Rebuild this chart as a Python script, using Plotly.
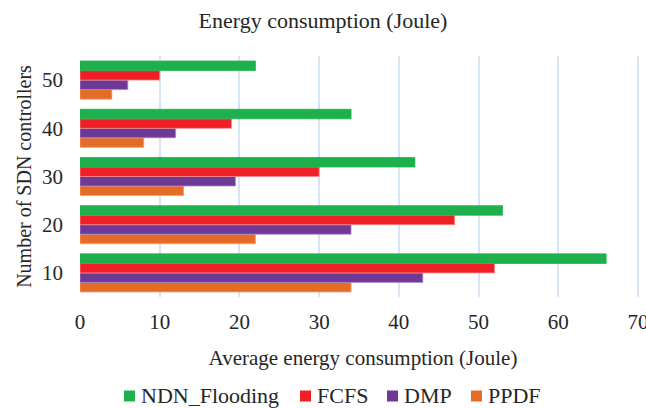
import plotly.graph_objects as go

controllers = ["10", "20", "30", "40", "50"]
ndn_flooding = [66, 53, 42, 34, 22]
fcfs = [52, 47, 30, 19, 10]
dmp = [43, 34, 19.5, 12, 6]
ppdf = [34, 22, 13, 8, 4]

series = [
    ("PPDF", ppdf, "#E66C25", "#F0A070"),
    ("DMP", dmp, "#6E3996", "#A98BC4"),
    ("FCFS", fcfs, "#EE1F25", "#F58A8D"),
    ("NDN_Flooding", ndn_flooding, "#1FB04E", "#1FB04E"),
]

FAM = "Liberation Serif"
TXT = "#262626"
W, H = 646, 408
ML, MR, MT, MB = 80, 0, 56, 111
PW, PH = W - ML - MR, H - MT - MB


def f(size):
    return dict(family=FAM, size=size, color=TXT)


fig = go.Figure()
for name, vals, color, edge in series:
    fig.add_trace(go.Bar(
        y=controllers, x=vals, orientation="h", name=name, showlegend=False,
        marker=dict(color=color, line=dict(color=edge, width=0.8)),
    ))

# Legend row beneath the axis title: swatch + label per series (pixel layout)
legend_items = [("NDN_Flooding", 124), ("FCFS", 300), ("DMP", 387), ("PPDF", 471)]
colors = {name: color for name, _, color, _ in series}
legend_y = 396
sw = 11
for name, px in legend_items:
    x0 = (px - ML) / PW
    x1 = (px + sw - ML) / PW
    y0 = (H - MB - (legend_y + sw / 2)) / PH
    y1 = (H - MB - (legend_y - sw / 2)) / PH
    fig.add_shape(type="rect", xref="paper", yref="paper", x0=x0, x1=x1,
                  y0=y0, y1=y1, fillcolor=colors[name], line=dict(width=0))
    fig.add_annotation(text=name, xref="paper", yref="paper",
                       x=(px + sw + 5 - ML) / PW, y=(H - MB - legend_y) / PH,
                       xanchor="left", yanchor="middle", showarrow=False,
                       borderpad=0, font=f(22))

fig.update_layout(
    width=W, height=H,
    margin=dict(l=ML, r=MR, t=MT, b=MB, autoexpand=False),
    paper_bgcolor="white", plot_bgcolor="white",
    barmode="group", bargap=0.21, bargroupgap=0,
    font=f(21),
    showlegend=False,
    title=dict(text="Energy consumption (Joule)", x=0.5, xanchor="center",
               yref="container", y=0.951, yanchor="middle", font=f(22)),
    xaxis=dict(range=[0, 71], tickvals=[0, 10, 20, 30, 40, 50, 60, 70],
               showgrid=True, gridcolor="#D6E4F5",
               gridwidth=2, zeroline=False, showline=False, ticks="",
               ticklabelstandoff=10, ticklabeloverflow="allow", tickfont=f(21),
               automargin=False,
               title=dict(text="Average energy consumption (Joule)",
                          font=f(21), standoff=17)),
    yaxis=dict(type="category", categoryorder="array", categoryarray=controllers,
               showgrid=False, zeroline=False, showline=False, ticks="",
               ticklabelstandoff=16, tickfont=f(21), automargin=False,
               title=dict(text="Number of SDN controllers", font=f(20),
                          standoff=5)),
)

fig.write_html("out.html")
